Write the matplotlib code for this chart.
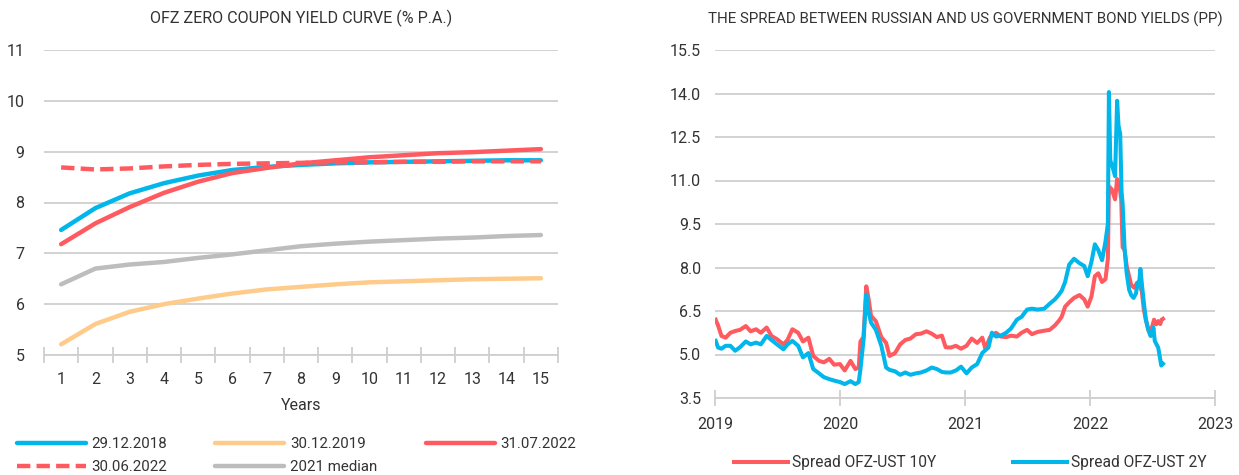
import numpy as np
import pandas as pd
import matplotlib
matplotlib.use("Agg")
import matplotlib.pyplot as plt
import matplotlib.dates as mdates
from matplotlib.ticker import FixedLocator, FormatStrFormatter

plt.rcParams['font.family'] = ['Roboto', 'DejaVu Sans']

# --- left chart data: OFZ zero coupon yield curve
years = list(range(1, 16))
curve_2018 = [7.46, 7.89, 8.18, 8.38, 8.53, 8.64, 8.70, 8.74, 8.77, 8.79, 8.80, 8.81, 8.82, 8.83, 8.83]
curve_2019 = [5.21, 5.61, 5.85, 6.00, 6.11, 6.21, 6.29, 6.34, 6.39, 6.43, 6.45, 6.47, 6.49, 6.50, 6.51]
curve_jul22 = [7.18, 7.59, 7.91, 8.19, 8.41, 8.58, 8.68, 8.77, 8.83, 8.89, 8.93, 8.97, 8.99, 9.02, 9.05]
curve_jun22 = [8.69, 8.65, 8.67, 8.71, 8.74, 8.76, 8.77, 8.78, 8.79, 8.79, 8.80, 8.80, 8.81, 8.81, 8.81]
curve_med21 = [6.39, 6.70, 6.78, 6.83, 6.91, 6.98, 7.06, 7.14, 7.19, 7.23, 7.26, 7.29, 7.31, 7.34, 7.36]

# --- right chart data: spreads OFZ - UST (pp)
dates_10y = ["2019-01-03", "2019-01-10", "2019-01-20", "2019-02-01", "2019-02-15", "2019-03-01",
             "2019-03-15", "2019-04-01", "2019-04-15", "2019-05-01", "2019-05-15", "2019-06-01",
             "2019-06-15", "2019-07-01", "2019-07-20", "2019-08-01", "2019-08-15", "2019-09-01",
             "2019-09-15", "2019-10-01", "2019-10-15", "2019-11-01", "2019-11-15", "2019-12-01",
             "2019-12-15", "2020-01-01", "2020-01-15", "2020-02-01", "2020-02-15", "2020-02-25",
             "2020-03-01", "2020-03-10", "2020-03-18", "2020-03-25", "2020-04-01", "2020-04-15",
             "2020-05-01", "2020-05-15", "2020-05-25", "2020-06-10", "2020-06-25", "2020-07-10",
             "2020-07-25", "2020-08-10", "2020-08-25", "2020-09-10", "2020-09-25", "2020-10-10",
             "2020-10-25", "2020-11-05", "2020-11-20", "2020-12-05", "2020-12-20", "2021-01-05",
             "2021-01-20", "2021-02-05", "2021-02-20", "2021-03-01", "2021-03-15", "2021-04-01",
             "2021-04-15", "2021-05-01", "2021-05-15", "2021-06-01", "2021-06-15", "2021-07-01",
             "2021-07-15", "2021-08-01", "2021-08-20", "2021-09-05", "2021-09-20", "2021-10-01",
             "2021-10-10", "2021-10-20", "2021-11-01", "2021-11-15", "2021-12-01", "2021-12-15",
             "2021-12-25", "2022-01-05", "2022-01-15", "2022-01-25", "2022-02-05", "2022-02-15",
             "2022-02-22", "2022-02-25", "2022-03-05", "2022-03-15", "2022-03-21", "2022-03-28",
             "2022-04-02", "2022-04-06", "2022-04-12", "2022-04-18", "2022-04-25", "2022-05-01",
             "2022-05-10", "2022-05-18", "2022-05-25", "2022-06-01", "2022-06-07", "2022-06-13",
             "2022-06-20", "2022-06-27", "2022-07-01", "2022-07-07", "2022-07-13", "2022-07-19",
             "2022-07-25", "2022-07-29", "2022-08-02"]
spread_10y = [6.20, 6.00, 5.64, 5.58, 5.75, 5.81,
              5.85, 5.98, 5.80, 5.87, 5.75, 5.93,
              5.64, 5.53, 5.35, 5.50, 5.87, 5.75,
              5.45, 5.58, 4.95, 4.78, 4.73, 4.85,
              4.65, 4.67, 4.45, 4.78, 4.50, 4.55,
              5.45, 5.60, 7.35, 6.90, 6.33, 6.15,
              5.60, 5.40, 4.95, 5.05, 5.35, 5.50,
              5.55, 5.70, 5.72, 5.80, 5.72, 5.60,
              5.65, 5.25, 5.24, 5.30, 5.20, 5.30,
              5.55, 5.40, 5.58, 5.20, 5.60, 5.75,
              5.62, 5.60, 5.65, 5.62, 5.75, 5.85,
              5.70, 5.78, 5.82, 5.85, 6.00, 6.15,
              6.30, 6.65, 6.80, 6.95, 7.05, 6.90,
              6.65, 7.00, 7.70, 7.80, 7.50, 7.60,
              8.30, 10.80, 10.70, 10.35, 11.05, 10.80,
              10.35, 8.70, 8.60, 8.05, 7.70, 7.40,
              7.30, 7.47, 7.40, 7.18, 6.55, 6.20,
              5.85, 5.65, 5.95, 6.20, 6.04, 6.15,
              6.05, 6.20, 6.23]

dates_2y = ["2019-01-03", "2019-01-10", "2019-01-20", "2019-02-01", "2019-02-15", "2019-03-01",
            "2019-03-15", "2019-04-01", "2019-04-15", "2019-05-01", "2019-05-15", "2019-06-01",
            "2019-06-15", "2019-07-01", "2019-07-20", "2019-08-01", "2019-08-15", "2019-09-01",
            "2019-09-15", "2019-10-01", "2019-10-15", "2019-11-01", "2019-11-15", "2019-12-01",
            "2019-12-15", "2020-01-01", "2020-01-15", "2020-02-01", "2020-02-15", "2020-02-25",
            "2020-03-01", "2020-03-10", "2020-03-18", "2020-03-25", "2020-04-01", "2020-04-15",
            "2020-05-01", "2020-05-15", "2020-05-25", "2020-06-10", "2020-06-25", "2020-07-10",
            "2020-07-25", "2020-08-10", "2020-08-25", "2020-09-10", "2020-09-25", "2020-10-10",
            "2020-10-25", "2020-11-05", "2020-11-20", "2020-12-05", "2020-12-20", "2021-01-05",
            "2021-01-20", "2021-02-05", "2021-02-20", "2021-03-01", "2021-03-10", "2021-03-20",
            "2021-04-01", "2021-04-15", "2021-05-01", "2021-05-15", "2021-06-01", "2021-06-15",
            "2021-07-01", "2021-07-15", "2021-08-01", "2021-08-20", "2021-09-05", "2021-09-20",
            "2021-10-01", "2021-10-10", "2021-10-20", "2021-11-01", "2021-11-15", "2021-12-01",
            "2021-12-15", "2021-12-25", "2022-01-05", "2022-01-15", "2022-01-25", "2022-02-05",
            "2022-02-15", "2022-02-22", "2022-02-25", "2022-03-01", "2022-03-08", "2022-03-15",
            "2022-03-21", "2022-03-25", "2022-03-30", "2022-04-03", "2022-04-06", "2022-04-12",
            "2022-04-18", "2022-04-25", "2022-05-01", "2022-05-08", "2022-05-15", "2022-05-20",
            "2022-05-25", "2022-05-28", "2022-06-02", "2022-06-07", "2022-06-13", "2022-06-20",
            "2022-06-27", "2022-07-01", "2022-07-05", "2022-07-09", "2022-07-14", "2022-07-19",
            "2022-07-24", "2022-07-28", "2022-08-02"]
spread_2y = [5.47, 5.24, 5.20, 5.30, 5.30, 5.13,
             5.25, 5.45, 5.35, 5.41, 5.35, 5.64,
             5.50, 5.35, 5.18, 5.35, 5.47, 5.30,
             4.90, 5.05, 4.50, 4.35, 4.22, 4.15,
             4.10, 4.05, 3.98, 4.08, 3.98, 4.05,
             4.50, 5.50, 7.07, 6.44, 6.10, 5.85,
             5.30, 4.55, 4.47, 4.42, 4.30, 4.38,
             4.30, 4.35, 4.38, 4.45, 4.55, 4.50,
             4.40, 4.38, 4.38, 4.45, 4.58, 4.35,
             4.55, 4.67, 5.05, 5.15, 5.24, 5.75,
             5.62, 5.65, 5.75, 5.90, 6.20, 6.30,
             6.55, 6.58, 6.55, 6.58, 6.75, 6.90,
             7.05, 7.20, 7.50, 8.10, 8.30, 8.15,
             8.05, 7.70, 8.20, 8.80, 8.60, 8.25,
             8.90, 9.50, 14.05, 11.70, 11.45, 11.15,
             13.75, 12.90, 12.60, 10.60, 10.20, 8.60,
             7.80, 7.24, 7.05, 6.95, 7.10, 7.47,
             7.55, 7.95, 7.35, 6.80, 6.20, 5.87,
             5.64, 5.70, 5.93, 5.47, 5.35, 5.24,
             4.90, 4.62, 4.68]

BLUE = "#00B6EA"
RED = "#FF5A5F"
PEACH = "#FFCB8A"
GREY = "#BDBDBD"
GRID = "#CFCFCF"
TXT = "#333333"

W, H = 1239, 475
fig = plt.figure(figsize=(W / 100, H / 100), dpi=100)


def px_axes(x0, x1, ytop, ybot):
    return fig.add_axes([x0 / W, 1 - ybot / H, (x1 - x0) / W, (ybot - ytop) / H])


def style(ax):
    for s in ["top", "right", "left"]:
        ax.spines[s].set_visible(False)
    ax.spines["bottom"].set_color(GRID)
    ax.spines["bottom"].set_linewidth(1.3)
    ax.grid(axis="y", color=GRID, linewidth=1.3)
    ax.set_axisbelow(True)
    ax.tick_params(axis="y", length=0, labelsize=11.5, colors=TXT, pad=14)
    ax.tick_params(axis="x", which="major", length=0, labelsize=11.5, colors=TXT)


# ---------- left chart ----------
ax1 = px_axes(44, 558, 50, 355)
style(ax1)
h_b, = ax1.plot(years, curve_2018, color=BLUE, lw=3.2, solid_capstyle="round")
h_p, = ax1.plot(years, curve_2019, color=PEACH, lw=3.2, solid_capstyle="round")
h_r, = ax1.plot(years, curve_jul22, color=RED, lw=3.2, solid_capstyle="round")
h_d, = ax1.plot(years, curve_jun22, color=RED, lw=3.2, ls=(0, (3.0, 1.4)))
h_g, = ax1.plot(years, curve_med21, color=GREY, lw=3.2, solid_capstyle="round")
ax1.set_xlim(0.5, 15.5)
ax1.set_ylim(5, 11)
ax1.set_yticks(range(5, 12))
ax1.set_xticks(years)
ax1.xaxis.set_minor_locator(FixedLocator(np.arange(0.5, 16, 1)))
ax1.tick_params(axis="x", which="minor", length=11, width=1.3, color=GRID, direction="inout")
ax1.tick_params(axis="x", which="major", pad=12)
ax1.set_xlabel("Years", fontsize=11.5, color=TXT, labelpad=8)
ax1.set_title("OFZ ZERO COUPON YIELD CURVE (% P.A.)", fontsize=11.6, color=TXT, pad=19)

fig.legend([h_b, h_d, h_p, h_g, h_r],
           ["29.12.2018", "30.06.2022", "30.12.2019", "2021 median", "31.07.2022"],
           ncol=3, loc="upper left", bbox_to_anchor=(3 / W, 1 - 424 / H),
           frameon=False, fontsize=10.8, handlelength=4.6, handletextpad=0.4,
           columnspacing=3.2, labelspacing=0.55, labelcolor=TXT)

# ---------- right chart ----------
d10 = pd.to_datetime(dates_10y)
d2 = pd.to_datetime(dates_2y)
ax2 = px_axes(715, 1215, 50, 398)
style(ax2)
l10, = ax2.plot(d10, spread_10y, color=RED, lw=2.9)
l2, = ax2.plot(d2, spread_2y, color=BLUE, lw=2.9)
ax2.set_xlim(pd.Timestamp("2019-01-01"), pd.Timestamp("2023-01-01"))
ax2.set_ylim(3.5, 15.5)
ax2.set_yticks(np.arange(3.5, 15.6, 1.5))
ax2.yaxis.set_major_formatter(FormatStrFormatter("%.1f"))
ax2.xaxis.set_major_locator(mdates.YearLocator())
ax2.xaxis.set_major_formatter(mdates.DateFormatter("%Y"))
ax2.tick_params(axis="x", which="major", length=11, width=1.3, color=GRID, direction="inout", pad=8)
ax2.tick_params(axis="y", pad=10)
ax2.set_title("THE SPREAD BETWEEN RUSSIAN AND US GOVERNMENT BOND YIELDS (PP)",
              fontsize=10.9, color=TXT, pad=19)

fig.legend([l10, l2], ["Spread OFZ-UST 10Y", "Spread OFZ-UST 2Y"],
           ncol=2, loc="upper left", bbox_to_anchor=(720 / W, 1 - 441 / H),
           frameon=False, fontsize=11.2, handlelength=3.5, handletextpad=0.26,
           columnspacing=4.9, labelcolor=TXT)

fig.savefig("out.png", dpi=100)
